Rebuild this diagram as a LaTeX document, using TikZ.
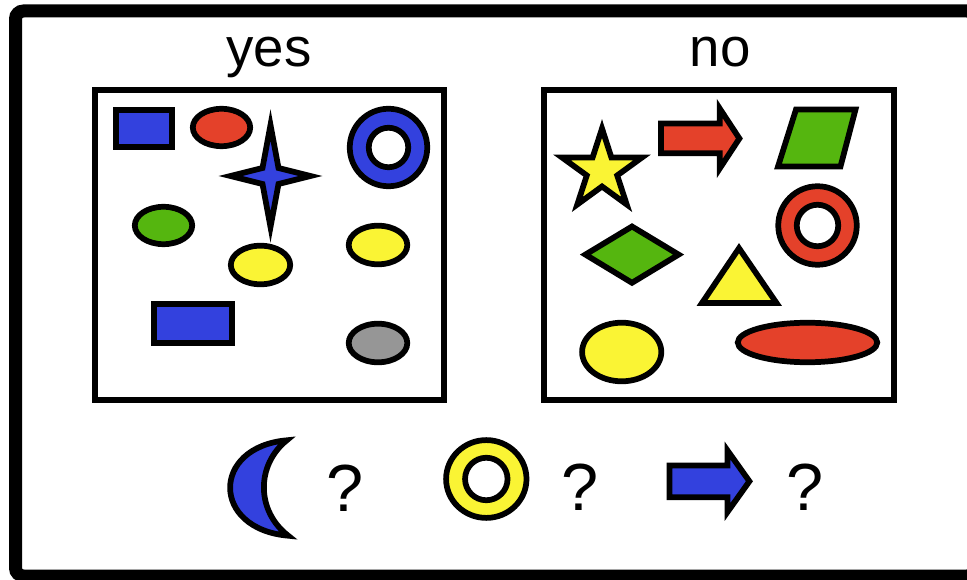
\documentclass[tikz,border=0pt]{standalone}
\usepackage{fontspec}
\setmainfont{Liberation Sans}
\definecolor{sblue}{RGB}{51,65,222}
\definecolor{sred}{RGB}{228,65,42}
\definecolor{sgreen}{RGB}{85,182,15}
\definecolor{syellow}{RGB}{250,244,52}
\definecolor{sgray}{RGB}{150,150,150}
\begin{document}
\begin{tikzpicture}[x=0.75pt,y=-0.75pt,
  shp/.style={draw=black,line width=4.3pt,line join=miter},
  panel/.style={draw=black,line width=4.4pt},
  lbl/.style={anchor=base,inner sep=0pt,font=\fontsize{41}{41}\selectfont},
  qm/.style={anchor=base,inner sep=0pt,font=\fontsize{50}{50}\selectfont}]
\useasboundingbox (0,0) rectangle (967,580);
\clip (0,0) rectangle (967,580);
\fill[white] (0,0) rectangle (967,580);
% outer frame
\draw[line width=9.75pt,rounded corners=6pt] (15.5,11) rectangle (975,576);
% panels and labels
\draw[panel] (95,90) rectangle (444,400);
\draw[panel] (544,90) rectangle (894,400);
\node[lbl] (yes) at (269,66.5) {yes};
\node[lbl] (no) at (720,66.5) {no};
% ---- yes panel ----
\draw[shp,fill=sblue] (115.75,109.75) rectangle (172.25,147.25);
\draw[shp,fill=sred] (221.5,127.5) ellipse[x radius=28.7,y radius=18.7];
\draw[shp,fill=sblue,even odd rule] (388.5,147.5) circle[radius=38.75] (388.5,147.5) circle[radius=19.75];
\draw[shp,fill=sgreen] (163.5,225.5) ellipse[x radius=28.7,y radius=18.7];
\draw[shp,fill=syellow] (260.5,265) ellipse[x radius=29.7,y radius=19.3];
\draw[shp,fill=sblue] (270.5,125) -- (278.5,168) -- (310.5,176) -- (278.5,184) -- (270.5,227) -- (262.5,184) -- (230.5,176) -- (262.5,168) -- cycle;
\draw[shp,fill=syellow] (378,245) ellipse[x radius=29.3,y radius=19.3];
\draw[shp,fill=sblue] (153.75,303.75) rectangle (232.25,343.25);
\draw[shp,fill=sgray] (378,343) ellipse[x radius=29.3,y radius=19.3];
% ---- no panel ----
\draw[shp,fill=syellow,shift={(602,170.5)}] (-90:42) -- (-54:16) -- (-18:42) -- (18:16) -- (54:42) -- (90:16) -- (126:42) -- (162:16) -- (198:42) -- (234:16) -- cycle;
\draw[shp,fill=sred] (661,123.5) -- (719.7,123.5) -- (719.7,108.5) -- (739.4,138.5) -- (719.7,168.5) -- (719.7,153.2) -- (661,153.2) -- cycle;
\draw[shp,fill=sgreen] (796,109.5) -- (855.5,109.5) -- (840.5,166.5) -- (778,166.5) -- cycle;
\draw[shp,fill=sred,even odd rule] (817.5,225.5) circle[radius=39.25] (817.5,225.5) circle[radius=20.75];
\draw[shp,fill=sgreen] (585.4,254.6) -- (632,226.5) -- (678.6,254.6) -- (632,282.8) -- cycle;
\draw[shp,fill=syellow] (739,248.2) -- (776.5,303) -- (702,303) -- cycle;
\draw[shp,fill=syellow] (621.7,352) ellipse[x radius=39.6,y radius=29.3];
\draw[shp,fill=sred] (807.5,342.5) ellipse[x radius=69.75,y radius=19.75];
% ---- bottom row ----
\draw[shp,fill=sblue] (286.8,440.3) .. controls (211,447) and (211,529) .. (288.2,535.7) .. controls (256,511) and (256,465) .. cycle;
\node[qm] (q1) at (345,511) {?};
\draw[shp,fill=syellow,even odd rule] (486.3,479) ellipse[x radius=40.2,y radius=38.9] (486.3,479) circle[radius=21.25];
\node[qm] (q2) at (580,510) {?};
\draw[shp,fill=sblue] (669.5,465.5) -- (727.5,465.5) -- (727.5,450.5) -- (749.4,481.3) -- (727.5,512) -- (727.5,497.2) -- (669.5,497.2) -- cycle;
\node[qm] (q3) at (805,510) {?};
\end{tikzpicture}
\end{document}
